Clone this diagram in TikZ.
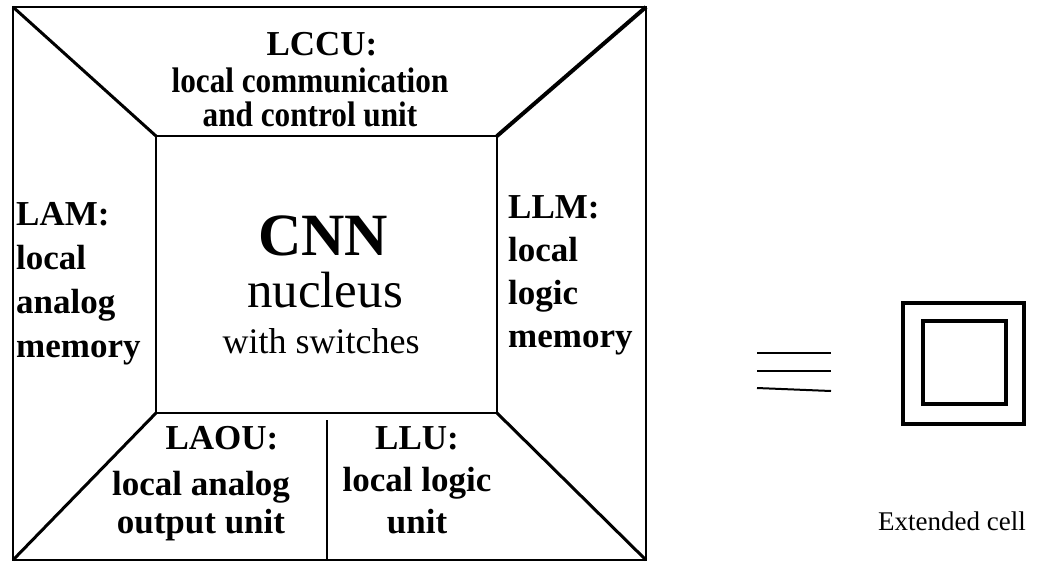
\documentclass[tikz,border=0pt]{standalone}
\usepackage{fontspec}
\setmainfont{Liberation Serif}
\newfontfamily\narrowserif[FakeStretch=0.88]{Liberation Serif}
\begin{document}
\begin{tikzpicture}[x=1pt,y=-1pt,
  frame/.style={line width=2pt},
  diag/.style={line width=3pt},
  thickdiag/.style={line width=4pt},
  divider/.style={line width=2.5pt},
  eqline/.style={line width=2pt},
  cellbox/.style={line width=4pt},
  head/.style={inner sep=0pt,font=\fontsize{35}{44}\selectfont\bfseries},
  body/.style={inner sep=0pt,font=\fontsize{35}{44}\selectfont\bfseries},
]
\useasboundingbox (0,0) rectangle (1046,563);

% outer cell frame and inner nucleus
\coordinate (o1) at (13,7);
\coordinate (o2) at (646,7);
\coordinate (o3) at (646,560);
\coordinate (o4) at (13,560);
\coordinate (i1) at (156,136);
\coordinate (i2) at (497,136);
\coordinate (i3) at (497,413);
\coordinate (i4) at (156,413);
\coordinate (d1) at (327,420);
\coordinate (d2) at (327,560);

\draw[frame] (o1) rectangle (o3);
\draw[frame] (i1) rectangle (i3);
\draw[diag] (o1) -- (i1);
\draw[thickdiag] (o2) -- (i2);
\draw[diag] (o3) -- (i3);
\draw[diag] (o4) -- (i4);
\draw[divider] (d1) -- (d2);

% top unit (multi-line nodes sit on the baseline of their last line)
\node[head,anchor=base] (lccuh) at (322,55) {LCCU:};
\node[body,anchor=base,align=center,font=\narrowserif\fontsize{35.5}{34}\selectfont\bfseries]
  (lccub) at (310,126) {local communication\\and control unit};

% left and right memories
\node[head,anchor=base west,align=left] (lam) at (16,357)
  {LAM:\\local\\analog\\memory};
\node[head,anchor=base west,align=left,font=\fontsize{35}{43}\selectfont\bfseries]
  (llm) at (508,347) {LLM:\\local\\logic\\memory};

% nucleus
\node[inner sep=0pt,anchor=base,font=\fontsize{60}{60}\selectfont\bfseries]
  (cnn) at (323,255) {CNN};
\node[inner sep=0pt,anchor=base,font=\fontsize{51}{51}\selectfont]
  (nuc) at (325,307) {nucleus};
\node[inner sep=0pt,anchor=base,font=\fontsize{36}{36}\selectfont]
  (sw) at (321,353) {with switches};

% bottom units
\node[head,anchor=base] (laouh) at (222,449) {LAOU:};
\node[body,anchor=base,align=center,font=\fontsize{35}{38}\selectfont\bfseries]
  (laoub) at (201,533) {local analog\\output unit};
\node[head,anchor=base,align=center,font=\fontsize{35}{42}\selectfont\bfseries]
  (llu) at (417,533) {LLU:\\local logic\\unit};

% equivalence sign
\draw[eqline] (757,353) -- (831,353);
\draw[eqline] (757,371) -- (831,371);
\draw[eqline] (757,388) -- (831,391);

% extended cell symbol
\draw[cellbox] (903,303) rectangle (1024,424);
\draw[cellbox] (923,321) rectangle (1005.5,404);
\node[inner sep=0pt,anchor=base west,font=\fontsize{27}{27}\selectfont]
  (ext) at (878,530) {Extended cell};
\end{tikzpicture}
\end{document}
